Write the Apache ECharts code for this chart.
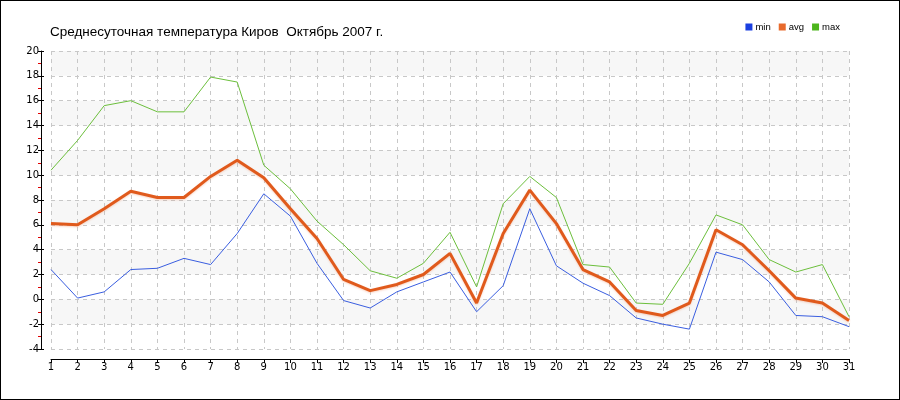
<!DOCTYPE html>
<html><head><meta charset="utf-8">
<script src="https://cdn.jsdelivr.net/npm/echarts@6/dist/echarts.min.js"></script>
<style>html,body{margin:0;padding:0;background:#fff}#c{width:900px;height:400px;box-sizing:border-box;border:1px solid #000}</style>
</head><body><div id="c"></div>
<script>
const days = ['1','2','3','4','5','6','7','8','9','10','11','12','13','14','15','16','17','18','19','20','21','22','23','24','25','26','27','28','29','30','31'];
const minT = [2.4,0.1,0.6,2.4,2.5,3.3,2.8,5.3,8.5,6.7,2.9,-0.1,-0.7,0.6,1.4,2.2,-1.0,1.1,7.3,2.7,1.3,0.3,-1.5,-2.0,-2.4,3.8,3.2,1.4,-1.3,-1.4,-2.2];
const avgT = [6.1,6.0,7.3,8.7,8.2,8.2,9.9,11.2,9.8,7.3,4.9,1.6,0.7,1.2,2.0,3.7,-0.3,5.3,8.8,6.1,2.4,1.4,-0.9,-1.3,-0.3,5.6,4.4,2.3,0.1,-0.3,-1.7];
const maxT = [10.4,12.8,15.6,16.0,15.1,15.1,17.9,17.5,10.8,8.9,6.3,4.4,2.3,1.7,2.9,5.4,1.0,7.7,9.9,8.2,2.8,2.6,-0.3,-0.4,2.9,6.8,6.0,3.2,2.2,2.8,-1.4];
const titleText = 'Среднесуточная температура Киров  Октябрь 2007 г.';
const seriesNames = ['min','avg','max'];

const chart = echarts.init(document.getElementById('c'));
const font = 'Tahoma, "DejaVu Sans", sans-serif';
chart.setOption({
  animation: false,
  title: {text: titleText, left: 44, top: 19, textStyle: {fontSize: 13.5, fontWeight: 'normal', color: '#000', fontFamily: '"Liberation Sans", Arial, sans-serif'}},
  legend: {data: seriesNames, right: 54, top: 16, icon: 'rect', itemWidth: 7, itemHeight: 7, itemGap: 8,
    textStyle: {fontSize: 9.5, color: '#000', fontFamily: '"Liberation Sans", Arial, sans-serif', padding: [0,0,0,-2]}},
  grid: {left: 50, right: 50, top: 50, bottom: 50},
  xAxis: {type: 'category', data: days, boundaryGap: false, offset: 10,
    axisLine: {onZero: false, lineStyle: {color: '#000', width: 1}},
    axisTick: {show: true, interval: 0, length: 4, lineStyle: {color: '#000'}},
    axisLabel: {interval: 0, fontSize: 10, color: '#000', margin: 3, fontFamily: font},
    splitLine: {show: true, interval: 0, lineStyle: {color: '#c8c8c8', type: [4,4]}}},
  yAxis: [{type: 'value', min: -4, max: 20, interval: 2, offset: 10,
    axisLine: {show: true, lineStyle: {color: '#000'}},
    axisTick: {show: true, length: 3, lineStyle: {color: '#000'}},
    minorTick: {show: true, splitNumber: 2, length: 3, lineStyle: {color: '#e00000'}},
    axisLabel: {fontSize: 10, color: '#000', margin: 2, fontFamily: font},
    splitLine: {show: true, lineStyle: {color: '#c8c8c8', type: [4,4]}},
    splitArea: {show: true, areaStyle: {color: ['#ffffff', '#f7f7f7']}}},
   {type: 'value', min: -4, max: 20, interval: 2, offset: 10, position: 'left',
    axisLine: {show: false}, axisLabel: {show: false}, splitLine: {show: false},
    axisTick: {show: true, inside: true, length: 3, lineStyle: {color: '#000'}}}],
  series: [
    {name: 'min', type: 'line', data: minT, symbol: 'none', lineStyle: {color: '#3a5ee0', width: 1}, itemStyle: {color: '#1a3fe0'}},
    {name: 'avg', type: 'line', data: avgT, symbol: 'none', lineStyle: {color: '#e05a1c', width: 3, shadowColor: 'rgba(240,150,110,0.4)', shadowBlur: 2, shadowOffsetY: 1}, itemStyle: {color: '#e86a2c'}},
    {name: 'max', type: 'line', data: maxT, symbol: 'none', lineStyle: {color: '#6cbf3c', width: 1}, itemStyle: {color: '#4cb51c'}}
  ]
});
</script></body></html>
